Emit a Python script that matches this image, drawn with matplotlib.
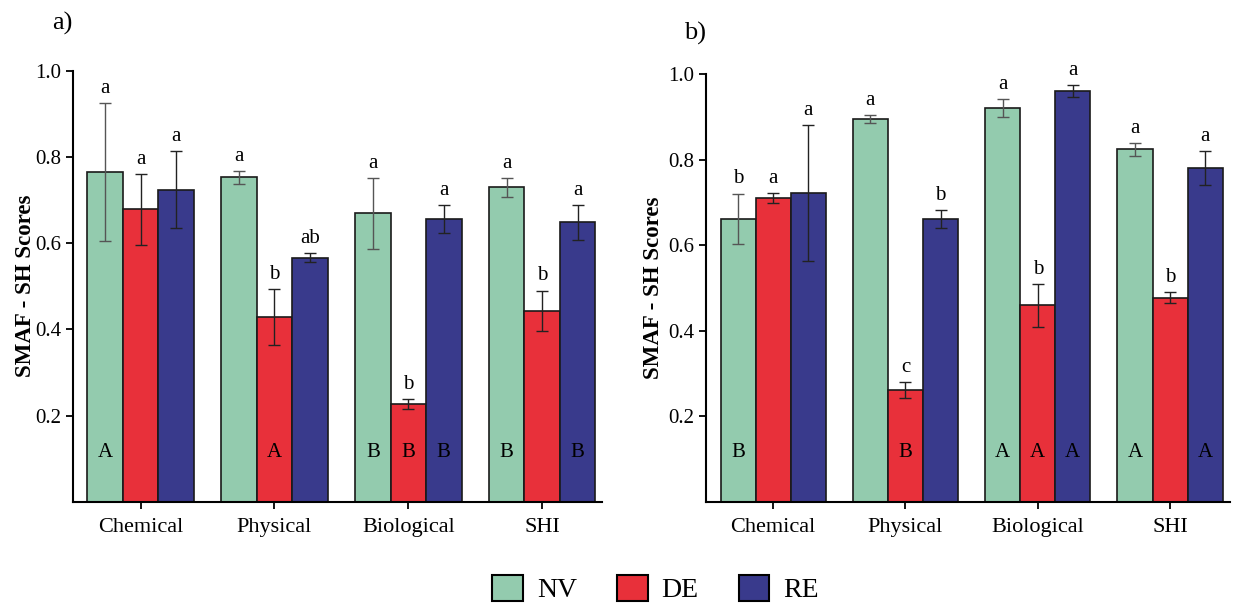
import matplotlib.pyplot as plt
from matplotlib.patches import Patch
import numpy as np

plt.rcParams['font.family'] = ['Liberation Serif', 'DejaVu Serif']

categories = ['Chemical', 'Physical', 'Biological', 'SHI']
groups = ['NV', 'DE', 'RE']
colors = ['#93cbae', '#e8303a', '#393a8c']

# panel a)
a_vals = {'NV': [0.765, 0.753, 0.669, 0.729],
          'DE': [0.678, 0.429, 0.227, 0.443],
          'RE': [0.724, 0.566, 0.656, 0.648]}
a_err = {'NV': [0.160, 0.015, 0.082, 0.021],
         'DE': [0.082, 0.065, 0.011, 0.047],
         'RE': [0.090, 0.010, 0.032, 0.040]}
a_lower = {'NV': ['a', 'a', 'a', 'a'],
           'DE': ['a', 'b', 'b', 'b'],
           'RE': ['a', 'ab', 'a', 'a']}
a_upper = {'NV': ['A', '', 'B', 'B'],
           'DE': ['', 'A', 'B', ''],
           'RE': ['', '', 'B', 'B']}

# panel b)
b_vals = {'NV': [0.662, 0.896, 0.921, 0.825],
          'DE': [0.711, 0.261, 0.460, 0.477],
          'RE': [0.723, 0.661, 0.960, 0.781]}
b_err = {'NV': [0.059, 0.009, 0.021, 0.015],
         'DE': [0.011, 0.019, 0.050, 0.013],
         'RE': [0.159, 0.021, 0.014, 0.040]}
b_lower = {'NV': ['b', 'a', 'a', 'a'],
           'DE': ['a', 'c', 'b', 'b'],
           'RE': ['a', 'b', 'a', 'a']}
b_upper = {'NV': ['B', '', 'A', 'A'],
           'DE': ['', 'B', 'A', ''],
           'RE': ['', '', 'A', 'A']}

err_colors = ['#555555', '#222222', '#222222']


def draw_panel(ax, vals, err, lower, upper, label_x):
    x = np.arange(len(categories))
    w = 0.265
    for i, g in enumerate(groups):
        pos = x + (i - 1) * w
        ax.bar(pos, vals[g], w, color=colors[i], edgecolor='#1a1a1a', linewidth=1.2,
               yerr=err[g], capsize=4.5,
               error_kw=dict(ecolor=err_colors[i], elinewidth=1.0, capthick=1.0))
        for j in range(len(categories)):
            top = vals[g][j] + err[g][j]
            ax.text(pos[j], top + 0.012, lower[g][j], ha='center', va='bottom', fontsize=15)
            if upper[g][j]:
                ax.text(pos[j], 0.115, upper[g][j], ha='center', va='center', fontsize=15)
    ax.set_xticks(x)
    ax.set_xticklabels(categories, fontsize=16)
    ax.set_yticks([0.2, 0.4, 0.6, 0.8, 1.0])
    ax.set_yticklabels(['0.2', '0.4', '0.6', '0.8', '1.0'], fontsize=15)
    ax.set_ylim(0, 1.0)
    ax.set_xlim(-0.505, 3.45)
    ax.spines['top'].set_visible(False)
    ax.spines['right'].set_visible(False)
    ax.spines['left'].set_linewidth(1.5)
    ax.spines['bottom'].set_linewidth(1.5)
    ax.tick_params(axis='both', direction='out', length=5, width=1.3)
    ax.tick_params(axis='x', pad=7)
    ax.set_ylabel('SMAF - SH Scores', fontsize=16.5, fontweight='bold')
    ax.yaxis.set_label_coords(label_x, 0.5)


fig = plt.figure(figsize=(12.37, 6.09), dpi=100)
ax1 = fig.add_axes([0.059, 0.176, 0.428, 0.708])
ax2 = fig.add_axes([0.571, 0.176, 0.423, 0.702])

draw_panel(ax1, a_vals, a_err, a_lower, a_upper, -0.070)
draw_panel(ax2, b_vals, b_err, b_lower, b_upper, -0.080)

fig.text(0.042, 0.962, 'a)', fontsize=19, va='center')
fig.text(0.553, 0.945, 'b)', fontsize=19, va='center')

handles = [Patch(facecolor=c, edgecolor='black', linewidth=1.5) for c in colors]
fig.legend(handles, groups, loc='center', bbox_to_anchor=(0.53, 0.033), ncol=3,
           frameon=False, fontsize=20, handlelength=1.1, handleheight=1.1,
           columnspacing=1.45, handletextpad=0.5)

fig.savefig('out.png', dpi=100)
